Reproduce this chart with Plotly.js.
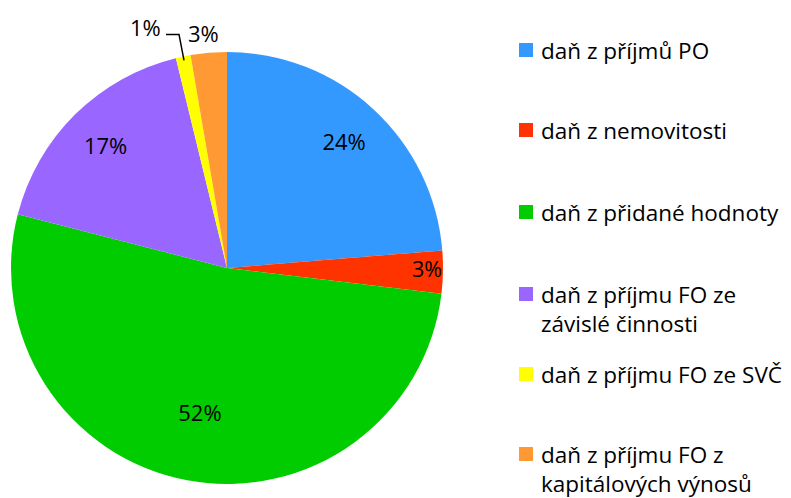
<!DOCTYPE html>
<html>
<head>
<meta charset="utf-8">
<script src="https://cdn.plot.ly/plotly-3.0.1.min.js"></script>
<style>html,body{margin:0;padding:0;background:#fff}#chart{width:791px;height:498px}</style>
</head>
<body>
<div id="chart"></div>
<script>
const labels = ["daň z příjmů PO", "daň z nemovitosti", "daň z přidané hodnoty", "daň z příjmu FO ze závislé činnosti", "daň z příjmu FO ze SVČ", "daň z příjmu FO z kapitálových výnosů"];
const legendText = ["daň z příjmů PO", "daň z nemovitosti", "daň z přidané hodnoty", "daň z příjmu FO ze<br>závislé činnosti", "daň z příjmu FO ze SVČ", "daň z příjmu FO z<br>kapitálových výnosů"];
const values = [23.7, 3.2, 52.1, 17.2, 1.1, 2.7];
const colors = ["#3399FF", "#FF3300", "#00CC00", "#9966FF", "#FFFF00", "#FF9933"];

const FONT = "'Open Sans', sans-serif";
const W = 791, H = 498;
const CX = 227, CY = 268, R = 216;
const domain = {x: [(CX - R) / W, (CX + R) / W], y: [(H - CY - R) / H, (H - CY + R) / H]};
const PCT = "%{percent:.0%}";
const tf = {family: FONT, size: 22, color: "#000"};

function base(extra) {
  return Object.assign({
    type: "pie", labels: labels, values: values, sort: false,
    direction: "clockwise", rotation: 0, domain: domain,
    insidetextorientation: "horizontal", textposition: "inside",
    textfont: tf, showlegend: false, hoverinfo: "skip"
  }, extra);
}

// main pie (carries the small red label)
const main = base({
  marker: {colors: colors, line: {width: 0}},
  texttemplate: ["", PCT, "", "", "", ""],
  hoverinfo: "label+percent"
});
// transparent ring overlays to place labels further out like the original
const clear = labels.map(() => "rgba(0,0,0,0)");
const ringOuter = base({
  hole: 0.6, marker: {colors: clear, line: {width: 0}},
  texttemplate: [PCT, "", "", PCT, "", ""]
});
const ringInner = base({
  hole: 0.36, marker: {colors: clear, line: {width: 0}},
  texttemplate: ["", "", PCT, "", "", ""]
});

// outside labels for the two small slices, from the data
const total = values.reduce((a, b) => a + b, 0);
const px = (x) => x / W, py = (y) => 1 - y / H;
let cum = 0;
const mids = values.map(v => { const m = (cum + v / 2) / total * 2 * Math.PI; cum += v; return m; });
const edge = (i, r) => [CX + r * Math.sin(mids[i]), CY - r * Math.cos(mids[i])];
const pctTxt = (i) => Math.round(values[i] / total * 100) + "%";

const annotations = [];
const shapes = [];
// orange slice label: straight above slice
{
  const i = 5; const [x, y] = edge(i, R + 20);
  annotations.push({xref: "paper", yref: "paper", x: px(x - 4), y: py(y), showarrow: false,
    xanchor: "center", yanchor: "middle", text: pctTxt(i), font: tf});
}
// yellow slice label with elbow leader
{
  const i = 4; const [ex, ey] = edge(i, R - 4);
  const elbowX = ex - 5, elbowY = ey - 26;
  const startX = elbowX - 13;
  shapes.push({type: "path", xref: "paper", yref: "paper",
    path: `M ${px(startX)} ${py(elbowY)} L ${px(elbowX)} ${py(elbowY)} L ${px(ex)} ${py(ey)}`,
    line: {color: "#000", width: 1.5}});
  annotations.push({xref: "paper", yref: "paper", x: px(startX - 3), y: py(elbowY - 7), showarrow: false,
    xanchor: "right", yanchor: "middle", text: pctTxt(i), font: tf});
}

// legend drawn as annotations + squares, built from the arrays
const legendY = [50, 130, 212, 294, 374, 454];
legendText.forEach((t, i) => {
  const yc = py(legendY[i]);
  shapes.push({type: "rect", xref: "paper", yref: "paper",
    x0: px(519), x1: px(533), y0: yc - 7 / H, y1: yc + 7 / H,
    fillcolor: colors[i], line: {width: 0}});
  annotations.push({xref: "paper", yref: "paper", x: px(539), y: yc + 17.5 / H,
    xanchor: "left", yanchor: "top", align: "left", showarrow: false,
    text: t, font: {family: FONT, size: 22.5, color: "#000"}});
});

const layout = {
  width: W, height: H,
  margin: {l: 0, r: 0, t: 0, b: 0},
  paper_bgcolor: "#fff",
  showlegend: false,
  shapes: shapes,
  annotations: annotations
};
Plotly.newPlot("chart", [main, ringOuter, ringInner], layout, {displayModeBar: false, staticPlot: true});
</script>
</body>
</html>
